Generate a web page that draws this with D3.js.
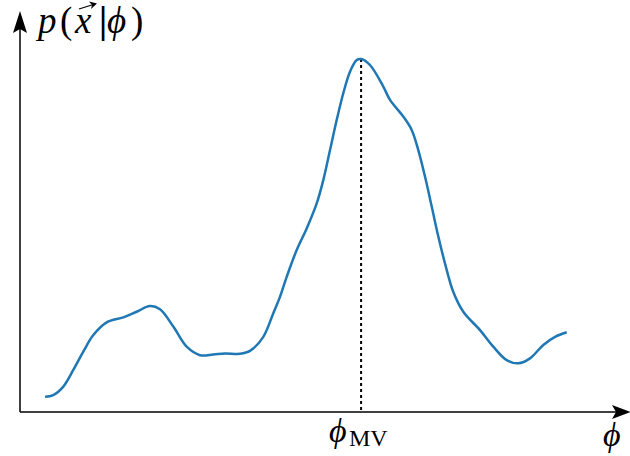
<!DOCTYPE html>
<html><head><meta charset="utf-8">
<script src="https://cdn.jsdelivr.net/npm/d3@7"></script>
<style>body{margin:0;background:#fff}svg{display:block}</style>
</head><body>
<script>
const phiValues = [4.17, 5.55, 7.22, 8.88, 10.55, 12.22, 14.45, 17.22, 19.45, 21.67, 23.33, 25.55, 27.78, 30, 32.22, 34.17, 36.67, 38.33, 40.55, 42.22, 43.33, 44.45, 46.12, 47.78, 49.45, 50.55, 51.67, 52.78, 53.88, 55, 56.12, 56.9, 58.33, 60.55, 61.67, 63.88, 65.28, 66.38, 67.5, 68.62, 69.72, 70.83, 72.22, 73.88, 76.67, 78.88, 81.12, 83.05, 85, 87.22, 89.17, 91.12];
const likelihood = [0.043, 0.048, 0.072, 0.119, 0.171, 0.218, 0.254, 0.268, 0.284, 0.300, 0.291, 0.242, 0.185, 0.161, 0.163, 0.166, 0.165, 0.173, 0.213, 0.280, 0.326, 0.383, 0.459, 0.520, 0.591, 0.657, 0.742, 0.827, 0.903, 0.964, 0.997, 1.0, 0.983, 0.922, 0.884, 0.837, 0.799, 0.742, 0.667, 0.582, 0.497, 0.421, 0.340, 0.284, 0.232, 0.185, 0.147, 0.138, 0.152, 0.190, 0.213, 0.226];
const phiMV = 56.85;

const W = 630, H = 456;
const svg = d3.select("body").append("svg").attr("width", W).attr("height", H);
const x = d3.scaleLinear().domain([0, 100]).range([20, 620]);
const y = d3.scaleLinear().domain([0, 1]).range([412, 59]);

const data = phiValues.map((p, i) => ({p, v: likelihood[i]}));

// axes
svg.append("line").attr("x1", x(0)).attr("x2", 616).attr("y1", y(0)).attr("y2", y(0))
  .attr("stroke", "#000").attr("stroke-width", 1.5);
svg.append("line").attr("x1", x(0)).attr("x2", x(0)).attr("y1", y(0)).attr("y2", 26)
  .attr("stroke", "#000").attr("stroke-width", 1.5);
// arrowheads
svg.append("path").attr("d", `M631,${y(0)} L612,${y(0)-7} L616,${y(0)} L612,${y(0)+7} Z`).attr("fill", "#000");
svg.append("path").attr("d", `M${x(0)},11 L${x(0)-7},33 L${x(0)},29 L${x(0)+7},33 Z`).attr("fill", "#000");

// dotted line at phi_MV
svg.append("line").attr("x1", x(phiMV)).attr("x2", x(phiMV)).attr("y1", y(1)).attr("y2", y(0))
  .attr("stroke", "#000").attr("stroke-width", 2).attr("stroke-dasharray", "3,3");

// curve
const line = d3.line().x(d => x(d.p)).y(d => y(d.v)).curve(d3.curveCatmullRom.alpha(0.5));
svg.append("path").datum(data).attr("d", line).attr("fill", "none")
  .attr("stroke", "#1f77b4").attr("stroke-width", 2.5).attr("stroke-linejoin", "round");

const serif = "'Liberation Serif','Times New Roman',serif";
function t(xp, yp, s, size, italic, extra) {
  const e = svg.append("text").attr("x", xp).attr("y", yp).attr("font-family", serif)
    .attr("font-size", size).attr("font-style", italic ? "italic" : "normal").text(s);
  if (extra) extra(e);
  return e;
}
// y label p(x|phi)
t(38, 33, "p", 37, true);
t(60, 33, "(", 37, false);
t(75, 33, "x", 37, true);
t(99, 33, "|", 37, false, e => e.attr("font-weight", "bold"));
t(107, 33, "ϕ", 37, true);
t(131, 33, ")", 37, false);
// vector arrow above x
svg.append("line").attr("x1", 79).attr("x2", 95).attr("y1", 9).attr("y2", 4)
  .attr("stroke", "#000").attr("stroke-width", 1.3);
svg.append("path").attr("d", "M97,3.5 L89,1.5 L92,5 L91,9 Z").attr("fill", "#000");

// x label
t(603, 446, "ϕ", 34, true);

// phi_MV label
t(329, 442, "ϕ", 34, true);
t(349, 446, "MV", 24, false);
</script>
</body></html>
